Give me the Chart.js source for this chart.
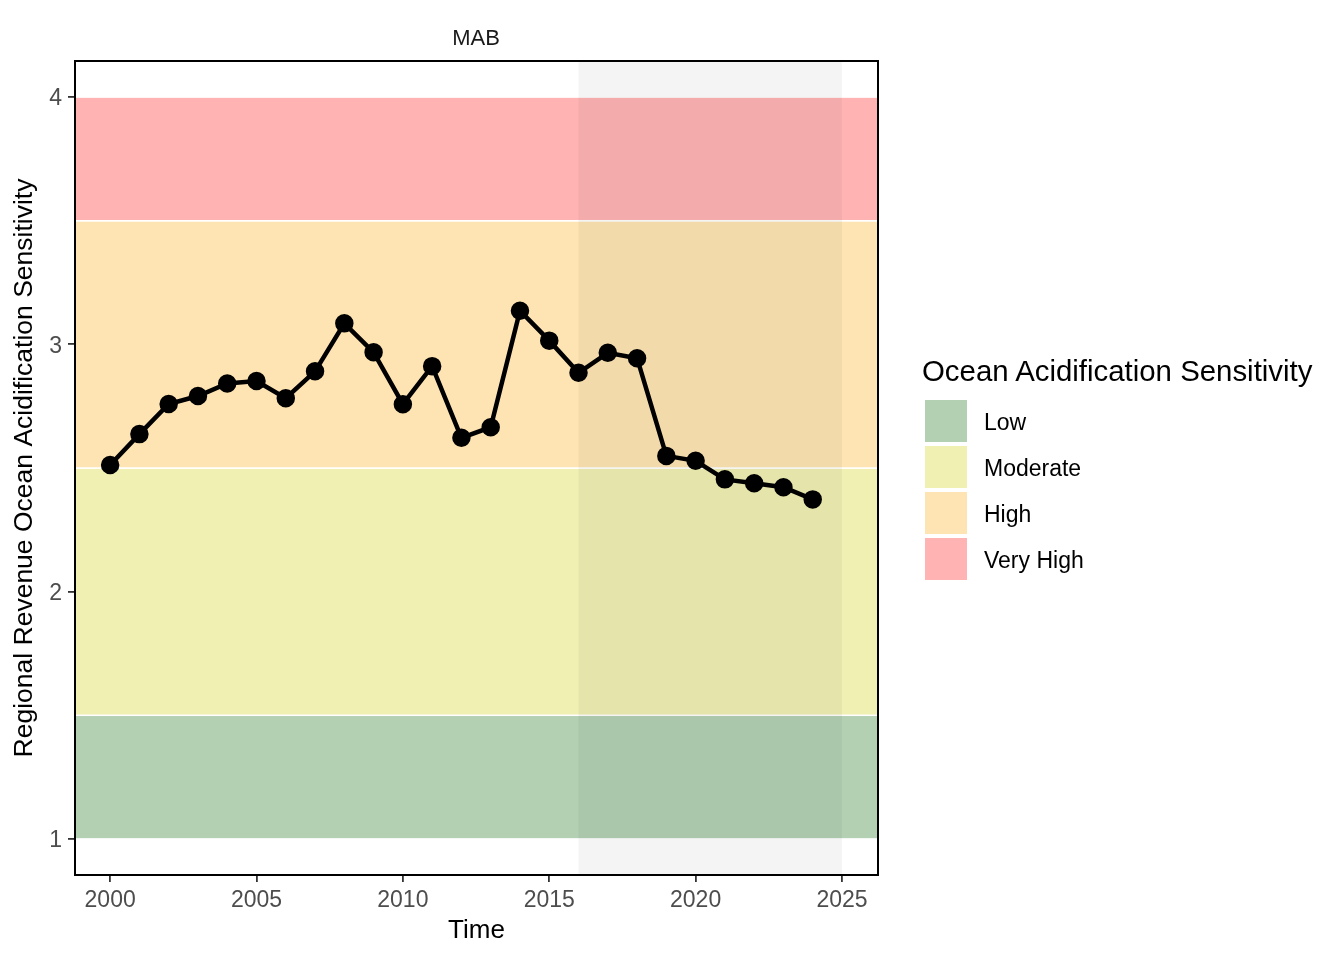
<!DOCTYPE html>
<html>
<head>
<meta charset="utf-8">
<title>MAB - Regional Revenue Ocean Acidification Sensitivity</title>
<script src="https://cdn.jsdelivr.net/npm/chart.js@4.4.1/dist/chart.umd.min.js"></script>
<style>
    body { margin: 0; background: #fff; font-family: "Liberation Sans", Arial, sans-serif; }
    #wrap { position: relative; width: 1344px; height: 960px; }
    #strip { position: absolute; left: 376px; width: 200px; top: 26px; line-height: 23px;
             text-align: center; font-size: 22px; color: #1a1a1a; }
    #legend { position: absolute; left: 922px; top: 356px; color: #000; }
    #legend .title { font-size: 29.4px; line-height: 29px; white-space: nowrap; margin-bottom: 15px; }
    #legend .item { display: flex; align-items: center; height: 42px; margin-bottom: 4px; margin-left: 3px; }
    #legend .key { width: 42px; height: 42px; }
    #legend .label { font-size: 23px; margin-left: 17px; padding-top: 2px; }
</style>
</head>
<body>
<div id="wrap">
    <canvas id="oaChart" width="1344" height="960"></canvas>
    <div id="strip">MAB</div>
    <div id="legend"></div>
</div>
<script>
// --- Data ---
const years = [2000, 2001, 2002, 2003, 2004, 2005, 2006, 2007, 2008, 2009, 2010, 2011, 2012,
               2013, 2014, 2015, 2016, 2017, 2018, 2019, 2020, 2021, 2022, 2023, 2024];
const sensitivity = [2.512, 2.637, 2.759, 2.791, 2.842, 2.852, 2.782, 2.891, 3.085, 2.968, 2.758, 2.912, 2.622,
                     2.665, 3.136, 3.015, 2.885, 2.966, 2.944, 2.549, 2.529, 2.454, 2.438, 2.422, 2.373];

const bandNames = ['Low', 'Moderate', 'High', 'Very High'];
const bandLower = [1, 1.5, 2.5, 3.5];
const bandUpper = [1.5, 2.5, 3.5, 4];
const bandColors = ['rgb(179,208,179)', 'rgb(240,240,179)', 'rgb(254,228,179)', 'rgb(255,179,179)'];

const shadeFrom = 2016;
const shadeTo = 2025;

const xTicks = [2000, 2005, 2010, 2015, 2020, 2025];
const yTicks = [1, 2, 3, 4];

const FONT = '"Liberation Sans", Arial, sans-serif';

// --- Legend (HTML) ---
const legendEl = document.getElementById('legend');
const legendTitle = document.createElement('div');
legendTitle.className = 'title';
legendTitle.textContent = 'Ocean Acidification Sensitivity';
legendEl.appendChild(legendTitle);
bandNames.forEach((name, i) => {
    const item = document.createElement('div');
    item.className = 'item';
    const key = document.createElement('div');
    key.className = 'key';
    key.style.background = bandColors[i];
    const label = document.createElement('div');
    label.className = 'label';
    label.textContent = name;
    item.appendChild(key);
    item.appendChild(label);
    legendEl.appendChild(item);
});

// --- Background bands + shaded projection period ---
const bandsPlugin = {
    id: 'bands',
    beforeDatasetsDraw(chart) {
        const { ctx, chartArea: a, scales: { x, y } } = chart;
        ctx.save();
        ctx.beginPath();
        ctx.rect(a.left, a.top, a.width, a.height);
        ctx.clip();
        bandNames.forEach((name, i) => {
            const top = y.getPixelForValue(bandUpper[i]);
            const bot = y.getPixelForValue(bandLower[i]);
            ctx.fillStyle = bandColors[i];
            ctx.fillRect(a.left, top, a.width, bot - top);
            ctx.strokeStyle = '#fff';
            ctx.lineWidth = 1.5;
            ctx.strokeRect(a.left - 5, top, a.width + 10, bot - top);
        });
        const sx0 = x.getPixelForValue(shadeFrom);
        const sx1 = x.getPixelForValue(shadeTo);
        ctx.fillStyle = 'rgba(0,0,0,0.045)';
        ctx.fillRect(sx0, a.top, sx1 - sx0, a.height);
        ctx.restore();
    },
    afterDraw(chart) {
        const { ctx, chartArea: a } = chart;
        ctx.save();
        ctx.strokeStyle = '#000';
        ctx.lineWidth = 2;
        ctx.strokeRect(a.left, a.top, a.width, a.height);
        ctx.restore();
    }
};

const ctx = document.getElementById('oaChart').getContext('2d');
new Chart(ctx, {
    type: 'line',
    data: {
        datasets: [{
            label: 'MAB',
            data: years.map((yr, i) => ({ x: yr, y: sensitivity[i] })),
            borderColor: '#000',
            backgroundColor: '#000',
            borderWidth: 4.5,
            pointRadius: 7,
            pointHoverRadius: 7,
            tension: 0
        }]
    },
    options: {
        responsive: false,
        animation: false,
        layout: { padding: { left: 0, top: 61, right: 466, bottom: 0 } },
        plugins: {
            legend: { display: false },
            tooltip: { enabled: false }
        },
        scales: {
            x: {
                type: 'linear',
                min: 1998.8,
                max: 2026.23,
                afterBuildTicks: s => { s.ticks = xTicks.map(v => ({ value: v })); },
                afterFit: s => { s.height = 85; },
                grid: { drawOnChartArea: false, tickLength: 7, color: '#333', lineWidth: 1.8 },
                border: { display: false },
                ticks: { color: '#4d4d4d', font: { size: 23, family: FONT }, padding: 5, maxRotation: 0,
                         callback: v => String(v) },
                title: { display: true, text: 'Time', color: '#000',
                         font: { size: 26, family: FONT }, padding: { top: 0, bottom: 14 } }
            },
            y: {
                min: 0.854,
                max: 4.146,
                afterBuildTicks: s => { s.ticks = yTicks.map(v => ({ value: v })); },
                afterFit: s => { s.width = 75; },
                grid: { drawOnChartArea: false, tickLength: 7, color: '#333', lineWidth: 1.8 },
                border: { display: false },
                ticks: { color: '#4d4d4d', font: { size: 23, family: FONT }, padding: 6, labelOffset: 2,
                         callback: v => String(v) },
                title: { display: true, text: 'Regional Revenue Ocean Acidification Sensitivity', color: '#000',
                         font: { size: 26.5, family: FONT }, padding: { top: 9, bottom: 0 } }
            }
        }
    },
    plugins: [bandsPlugin]
});
</script>
</body>
</html>
